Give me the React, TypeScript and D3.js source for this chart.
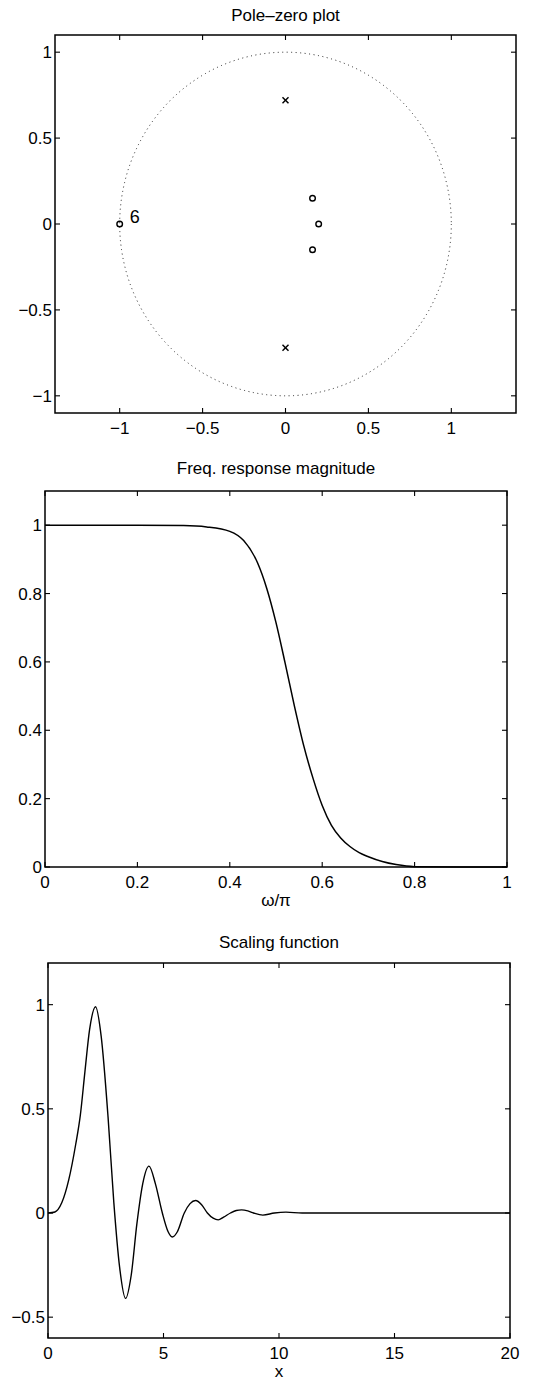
import React from 'react';
import * as d3 from 'd3';

// pole-zero plot
const poleRe = [0, 0];
const poleIm = [0.72, -0.72];
const zeroRe = [-1, 0.163, 0.2, 0.163];
const zeroIm = [0, 0.15, 0, -0.15];
const zeroMultLabel = '6';
const pzTicksX = [-1, -0.5, 0, 0.5, 1];
const pzTicksY = [-1, -0.5, 0, 0.5, 1];

// frequency response magnitude (omega / pi)
const freqW = [0, 0.1, 0.2, 0.3, 0.35, 0.4, 0.43, 0.46, 0.48, 0.5, 0.52, 0.54, 0.56, 0.58, 0.6, 0.62, 0.64, 0.66, 0.68, 0.7, 0.73, 0.76, 0.8, 0.9, 1];
const freqMag = [1, 1, 1, 0.999, 0.995, 0.982, 0.955, 0.89, 0.815, 0.715, 0.595, 0.47, 0.355, 0.26, 0.18, 0.122, 0.085, 0.06, 0.042, 0.03, 0.016, 0.007, 0.001, 0, 0];
const freqTicksX = [0, 0.2, 0.4, 0.6, 0.8, 1];
const freqTicksY = [0, 0.2, 0.4, 0.6, 0.8, 1];

// scaling function
const phiX = [0, 0.3, 0.6, 0.9, 1.2, 1.4, 1.6, 1.8, 2.06, 2.3, 2.6, 2.85, 3.1, 3.36, 3.6, 3.85, 4.1, 4.37, 4.65, 4.95, 5.2, 5.38, 5.6, 5.9, 6.15, 6.39, 6.65, 6.9, 7.15, 7.37, 7.6, 7.9, 8.15, 8.38, 8.65, 8.9, 9.3, 9.8, 10.3, 11, 12, 20];
const phiY = [0, 0.005, 0.05, 0.16, 0.33, 0.47, 0.68, 0.88, 0.99, 0.85, 0.46, 0.05, -0.26, -0.41, -0.3, -0.05, 0.14, 0.225, 0.14, 0, -0.09, -0.115, -0.09, 0, 0.045, 0.06, 0.04, 0, -0.025, -0.033, -0.02, 0, 0.012, 0.015, 0.01, 0, -0.01, 0, 0.004, 0, 0, 0];
const phiTicksX = [0, 5, 10, 15, 20];
const phiTicksY = [-0.5, 0, 0.5, 1];

const FONT = '"Liberation Sans", Arial, Helvetica, sans-serif';
const FS = 17;
const TICK = 5;

const fmt = (v: number) => (v < 0 ? '\u2212' + String(-v) : String(v));

function Frame({ x, y, xTicks, yTicks, title, xlabel, titleGap, children }: any) {
    const [x0, x1] = x.range();
    const [y0, y1] = y.range(); // y0 bottom, y1 top
    return (
        <g>
            {children}
            <rect x={x0} y={y1} width={x1 - x0} height={y0 - y1} fill="none" stroke="#000" strokeWidth={1.5} />
            {xTicks.map((t: number) => (
                <g key={'x' + t}>
                    <line x1={x(t)} x2={x(t)} y1={y0} y2={y0 - TICK} stroke="#000" strokeWidth={1.1} />
                    <line x1={x(t)} x2={x(t)} y1={y1} y2={y1 + TICK} stroke="#000" strokeWidth={1.1} />
                    <text x={x(t)} y={y0 + 20.5} textAnchor="middle" fontSize={FS} fontFamily={FONT}>{fmt(t)}</text>
                </g>
            ))}
            {yTicks.map((t: number) => (
                <g key={'y' + t}>
                    <line x1={x0} x2={x0 + TICK} y1={y(t)} y2={y(t)} stroke="#000" strokeWidth={1.1} />
                    <line x1={x1} x2={x1 - TICK} y1={y(t)} y2={y(t)} stroke="#000" strokeWidth={1.1} />
                    <text x={x0 - 3} y={y(t) + 6} textAnchor="end" fontSize={FS} fontFamily={FONT}>{fmt(t)}</text>
                </g>
            ))}
            <text x={(x0 + x1) / 2} y={y1 - titleGap} textAnchor="middle" fontSize={FS} fontFamily={FONT}>{title}</text>
            {xlabel && (
                <text x={(x0 + x1) / 2} y={y0 + 38.5} textAnchor="middle" fontSize={FS} fontFamily={FONT}>{xlabel}</text>
            )}
        </g>
    );
}

function PoleZero() {
    const x = d3.scaleLinear().domain([-1.39, 1.39]).range([55, 516]);
    const y = d3.scaleLinear().domain([-1.1, 1.1]).range([413, 35]);
    const s = 3;
    return (
        <Frame x={x} y={y} xTicks={pzTicksX} yTicks={pzTicksY} title="Pole–zero plot" titleGap={14}>
            <ellipse cx={x(0)} cy={y(0)} rx={x(1) - x(0)} ry={y(-1) - y(0)} fill="none"
                stroke="#222" strokeWidth={1} strokeDasharray="1,3.5" />
            {poleRe.map((r, i) => (
                <g key={'p' + i} stroke="#000" strokeWidth={1.5}>
                    <line x1={x(r) - s} x2={x(r) + s} y1={y(poleIm[i]) - s} y2={y(poleIm[i]) + s} />
                    <line x1={x(r) - s} x2={x(r) + s} y1={y(poleIm[i]) + s} y2={y(poleIm[i]) - s} />
                </g>
            ))}
            {zeroRe.map((r, i) => (
                <circle key={'z' + i} cx={x(r)} cy={y(zeroIm[i])} r={2.8} fill="none" stroke="#000" strokeWidth={1.4} />
            ))}
            <text x={x(zeroRe[0]) + 10} y={y(zeroIm[0]) - 1} fontSize={18} fontFamily={FONT}>{zeroMultLabel}</text>
        </Frame>
    );
}

function FreqResp() {
    const x = d3.scaleLinear().domain([0, 1]).range([45, 507]);
    const y = d3.scaleLinear().domain([0, 1.1]).range([867, 491]);
    const line = d3.line<number>().x((d, i) => x(freqW[i])).y(d => y(d)).curve(d3.curveMonotoneX);
    return (
        <Frame x={x} y={y} xTicks={freqTicksX} yTicks={freqTicksY} title="Freq. response magnitude" xlabel="ω/π" titleGap={17}>
            <path d={line(freqMag) || ''} fill="none" stroke="#000" strokeWidth={1.5} />
        </Frame>
    );
}

function Scaling() {
    const x = d3.scaleLinear().domain([0, 20]).range([48, 510]);
    const y = d3.scaleLinear().domain([-0.6, 1.2]).range([1338, 963]);
    const line = d3.line<number>().x((d, i) => x(phiX[i])).y(d => y(d)).curve(d3.curveMonotoneX);
    return (
        <Frame x={x} y={y} xTicks={phiTicksX} yTicks={phiTicksY} title="Scaling function" xlabel="x" titleGap={15}>
            <path d={line(phiY) || ''} fill="none" stroke="#000" strokeWidth={1.4} />
        </Frame>
    );
}

export default function App() {
    return (
        <svg width={541} height={1380} style={{ position: 'absolute', left: 0, top: 0, background: '#fff' }}>
            <rect width={541} height={1380} fill="#fff" />
            <PoleZero />
            <FreqResp />
            <Scaling />
        </svg>
    );
}
